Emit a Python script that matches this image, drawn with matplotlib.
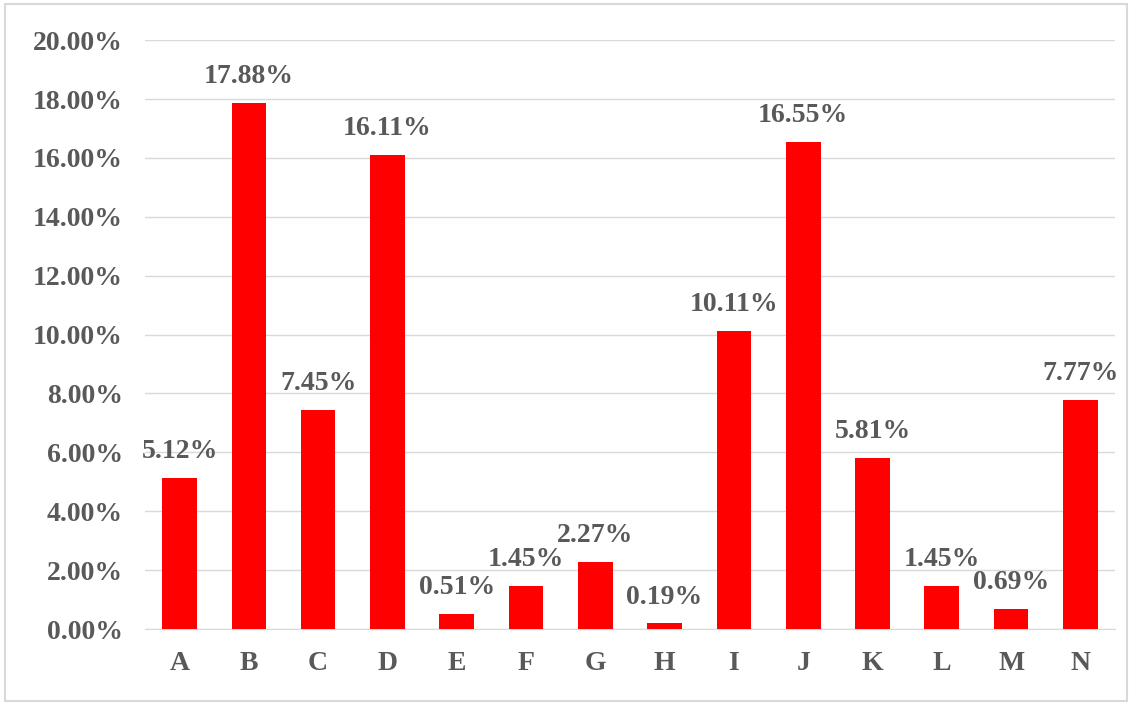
#!/usr/bin/env python3
"""Bar chart of category shares (percent), Excel-like styling."""

import matplotlib

matplotlib.use("Agg")
import matplotlib.pyplot as plt
from matplotlib.patches import Rectangle
from matplotlib.ticker import FuncFormatter

categories = ["A", "B", "C", "D", "E", "F", "G", "H", "I", "J", "K", "L", "M", "N"]
shares = [5.12, 17.88, 7.45, 16.11, 0.51, 1.45, 2.27, 0.19, 10.11, 16.55, 5.81, 1.45, 0.69, 7.77]
y_ticks = [0, 2, 4, 6, 8, 10, 12, 14, 16, 18, 20]

TEXT = "#595959"
GRID = "#d9d9d9"
BAR = "#ff0000"
FS = 20

plt.rcParams["font.family"] = ["Liberation Serif", "DejaVu Serif"]
plt.rcParams["font.weight"] = "bold"

fig = plt.figure(figsize=(11.32, 7.04), dpi=100)
ax = fig.add_axes([0.128, 0.1065, 0.857, 0.8365])

x = range(len(categories))
bars = ax.bar(x, shares, width=0.5, color=BAR, zorder=3)

for rect, v in zip(bars, shares):
    ax.annotate(f"{v:.2f}%", (rect.get_x() + rect.get_width() / 2, v),
                xytext=(0, 10), textcoords="offset points",
                ha="center", va="bottom", fontsize=FS, fontweight="bold",
                color=TEXT, zorder=4)

ax.set_xlim(-0.5, len(categories) - 0.5)
ax.set_ylim(0, 20)
ax.set_yticks(y_ticks)
ax.yaxis.set_major_formatter(FuncFormatter(lambda v, _: f"{v:.2f}%"))
ax.set_xticks(list(x))
ax.set_xticklabels(categories)

ax.grid(axis="y", color=GRID, linewidth=1.0, zorder=0)
for s in ["top", "right", "left"]:
    ax.spines[s].set_visible(False)
ax.spines["bottom"].set_color(GRID)
ax.tick_params(axis="both", length=0, labelsize=FS, colors=TEXT)
ax.tick_params(axis="y", pad=16)
ax.tick_params(axis="x", pad=16)

# light frame around the whole chart area
fig.patches.append(Rectangle((0.004, 0.004), 0.992, 0.99, transform=fig.transFigure,
                             fill=False, edgecolor="#d9d9d9", linewidth=1.5))

fig.savefig("out.png", dpi=100)
